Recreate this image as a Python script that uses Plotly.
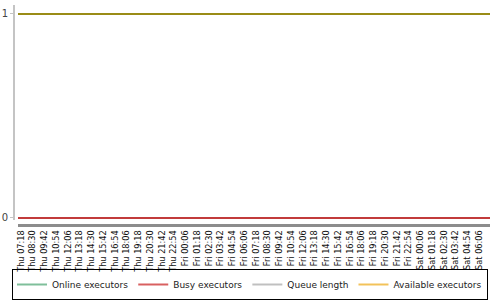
import plotly.graph_objects as go

tick_labels = [
    "Thu 07:18", "Thu 08:30", "Thu 09:42", "Thu 10:54", "Thu 12:06", "Thu 13:18",
    "Thu 14:30", "Thu 15:42", "Thu 16:54", "Thu 18:06", "Thu 19:18", "Thu 20:30",
    "Thu 21:42", "Thu 22:54", "Fri 00:06", "Fri 01:18", "Fri 02:30", "Fri 03:42",
    "Fri 04:54", "Fri 06:06", "Fri 07:18", "Fri 08:30", "Fri 09:42", "Fri 10:54",
    "Fri 12:06", "Fri 13:18", "Fri 14:30", "Fri 15:42", "Fri 16:54", "Fri 18:06",
    "Fri 19:18", "Fri 20:30", "Fri 21:42", "Fri 22:54", "Sat 00:06", "Sat 01:18",
    "Sat 02:30", "Sat 03:42", "Sat 04:54", "Sat 06:06",
]

sample_times = ["Thu 07:00", "Thu 13:00", "Thu 19:00", "Fri 01:00", "Fri 07:00",
                "Fri 13:00", "Fri 19:00", "Sat 01:00", "Sat 07:12"]
online_executors = [1, 1, 1, 1, 1, 1, 1, 1, 1]
busy_executors = [0, 0, 0, 0, 0, 0, 0, 0, 0]
queue_length = [0, 0, 0, 0, 0, 0, 0, 0, 0]
available_executors = [1, 1, 1, 1, 1, 1, 1, 1, 1]

DAYS = {"Thu": 0, "Fri": 1, "Sat": 2}


def to_minutes(label):
    day, hm = label.split(" ")
    h, m = hm.split(":")
    return DAYS[day] * 1440 + int(h) * 60 + int(m)


xs = [to_minutes(t) for t in sample_times]
tickvals = [to_minutes(t) for t in tick_labels]

series = [
    ("Online executors", online_executors, "#3d8f5c", "#7fbf9a"),
    ("Queue length", queue_length, "#a8a8a8", "#c0c0c0"),
    ("Busy executors", busy_executors, "#c23b3b", "#d86060"),
    ("Available executors", available_executors, "#9a8c16", "#f2c25a"),
]
legend_order = ["Online executors", "Busy executors", "Queue length", "Available executors"]

fig = go.Figure()
for name, vals, plot_col, leg_col in series:
    fig.add_trace(go.Scatter(x=xs, y=vals, mode="lines", name=name,
                             line=dict(color=plot_col, width=2),
                             showlegend=False, legendgroup=name, hoverinfo="skip"))
for name in legend_order:
    leg_col = [s[3] for s in series if s[0] == name][0]
    fig.add_trace(go.Scatter(x=[None], y=[None], mode="lines", name=name,
                             line=dict(color=leg_col, width=2),
                             legendgroup=name, showlegend=True))

fig.update_layout(
    width=500, height=300,
    margin=dict(l=14, r=10, t=5, b=75, autoexpand=False),
    paper_bgcolor="white", plot_bgcolor="white",
    font=dict(family="DejaVu Sans", size=9, color="#222"),
    showlegend=True,
    legend=dict(orientation="h", x=0.5, xanchor="center", xref="container",
                y=0.0, yanchor="bottom", yref="container",
                bordercolor="#000", borderwidth=1, bgcolor="rgba(255,255,255,0)",
                font=dict(family="DejaVu Sans", size=9, color="#222"), itemwidth=30,
                tracegroupgap=0),
    xaxis=dict(
        range=[min(xs), max(xs)], domain=[0.0084, 1], anchor="free", position=0,
        tickmode="array", tickvals=tickvals, ticktext=tick_labels, tickangle=-90,
        tickfont=dict(size=8.2, color="#111"), showgrid=False, zeroline=False,
        showline=True, linecolor="#8c8c8c", linewidth=3, ticks="", automargin=False,
    ),
    yaxis=dict(
        range=[-0.0098, 1.044], domain=[0.023, 1], anchor="free", position=0,
        tickmode="array", tickvals=[0, 1], ticktext=["0", "1"],
        tickfont=dict(size=10, color="#444"), showgrid=False, zeroline=False,
        showline=True, linecolor="#c4c4c4", linewidth=2, automargin=False,
        ticks="outside", ticklen=3, tickcolor="#c4c4c4",
    ),
)

fig.write_html("out.html")
